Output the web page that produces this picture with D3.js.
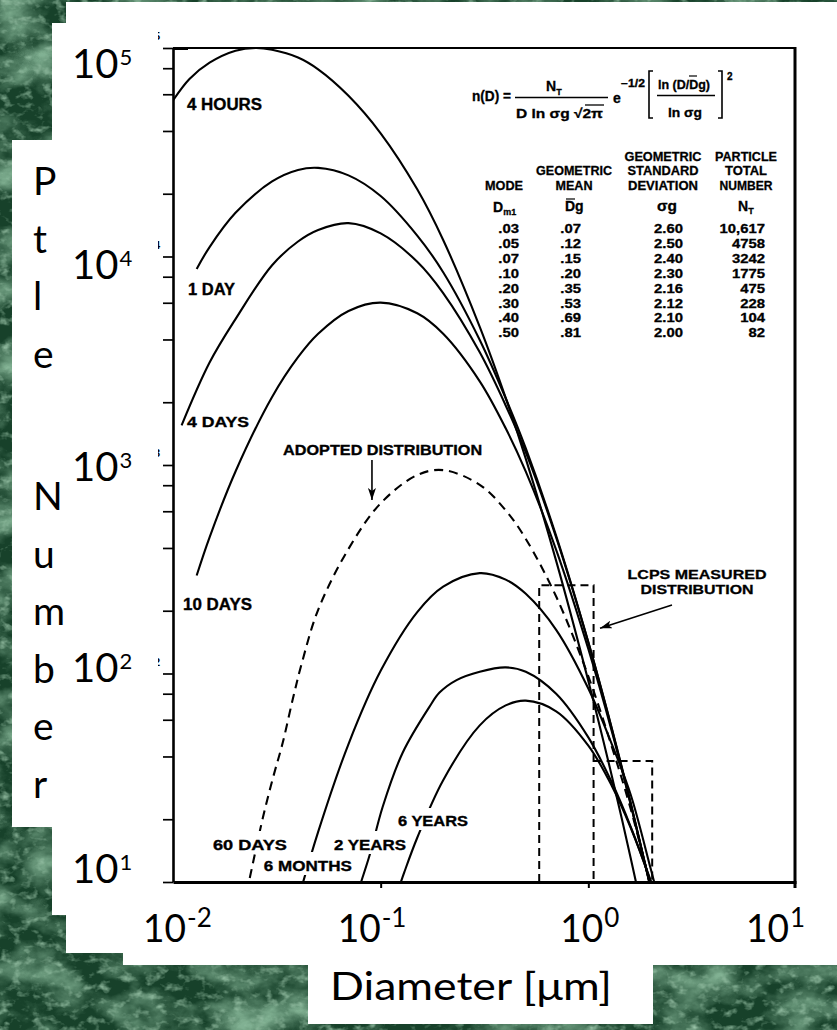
<!DOCTYPE html>
<html><head><meta charset="utf-8">
<script src="https://cdn.jsdelivr.net/npm/d3@7"></script>
<style>body{margin:0;background:#fff}svg{display:block}</style>
</head><body>
<svg id="c" width="837" height="1030"></svg>
<script>
// ---------------- DATA ----------------
const curveNames = ["4 HOURS","1 DAY","4 DAYS","10 DAYS","60 DAYS","6 MONTHS","2 YEARS","6 YEARS"];
// [diameter um, particle number]
const hours4 = [[0.01,56000],[0.012,71000],[0.015,85000],[0.02,97000],[0.025,100000],[0.03,98000],[0.04,90000],[0.05,79000],[0.07,59000],[0.1,39000],[0.15,21000],[0.2,12000],[0.3,4600],[0.4,2100],[0.5,1070],[0.7,347],[1.0,92],[1.3,32],[1.6,13],[2.0,4.7]];
const day1 = [[0.013,8710],[0.015,11100],[0.02,16200],[0.03,22900],[0.04,26000],[0.05,26600],[0.07,24500],[0.1,19500],[0.15,12600],[0.2,8410],[0.3,3980],[0.4,2090],[0.5,1200],[0.7,457],[1.0,141],[1.3,53.7],[1.6,23.7],[2.0,9.3]];
const days4 = [[0.011,1550],[0.015,3100],[0.02,5010],[0.03,9080],[0.04,11800],[0.05,13400],[0.07,14450],[0.1,12900],[0.15,9440],[0.2,6680],[0.3,3470],[0.4,1930],[0.5,1150],[0.7,449],[1.0,141],[1.3,54.2],[1.6,23.9],[2.0,9.3]];
const days10 = [[0.013,295],[0.015,450],[0.02,931],[0.03,2120],[0.04,3290],[0.05,4260],[0.07,5480],[0.1,6010],[0.15,5340],[0.2,4260],[0.3,2520],[0.4,1500],[0.5,929],[0.7,392],[1.0,131],[1.3,52.4],[1.6,23.5],[2.0,9.3]];
const days60 = [[0.0226,8.9],[0.0232,10],[0.0271,20.4],[0.0303,31.6],[0.0338,46.8],[0.0377,75],[0.0417,112],[0.05,202],[0.07,396],[0.1,655],[0.15,895],[0.2,945],[0.3,804],[0.4,606],[0.5,442],[0.7,234],[1.0,97],[1.3,44.3],[1.6,22.4],[2.0,9.5]];
const months6 = [[0.04,8.2],[0.05,17.4],[0.07,45.9],[0.1,103],[0.15,197],[0.2,261],[0.3,303],[0.4,282],[0.5,241],[0.7,162],[1.0,84.7],[1.3,45.6],[1.6,26.2],[2.0,11.5],[2.2,8]];
const years2 = [[0.078,9.1],[0.081,10.2],[0.0886,13.5],[0.1022,22.9],[0.1276,41.7],[0.172,69.4],[0.192,81],[0.232,93],[0.3,102],[0.4,107],[0.5,102],[0.7,80],[1.0,49.4],[1.3,29.9],[1.6,18.4],[2.0,10.0],[2.2,7.5]];
const years6 = [[0.12,8.84],[0.13,11.15],[0.15,16.3],[0.2,30.8],[0.3,56.4],[0.4,70.3],[0.5,74.1],[0.7,65.9],[1.0,45.1],[1.3,28.8],[1.6,18.2],[2.0,10.1],[2.2,7.6]];
const curveData = [hours4, day1, days4, days10, days60, months6, years2, years6];
const curveDashed = [false,false,false,false,true,false,false,false];
// label anchors (diameter, number) for each curve label
const labelD = [0.01168,0.01181,0.01168,0.01117,0.01557,0.02737,0.05963,0.1212];
const labelN = [50430,6536,1521,201.6,14.24,11.29,14.24,18.56];
// LCPS measured distribution (histogram bins)
const lcpsLo = [0.58, 1.06];
const lcpsHi = [1.06, 2.03];
const lcpsN  = [265, 38];
// axis ticks
const xTickValues = [0.01, 0.1, 1, 10];
const xTickExp = ["-2","-1","0","1"];
const yTickValues = [10, 100, 1000, 10000, 100000];
const yTickExp = ["1","2","3","4","5"];
// table
const tableMode = [".03",".05",".07",".10",".20",".30",".40",".50"];
const tableMean = [".07",".12",".15",".20",".35",".53",".69",".81"];
const tableSd   = ["2.60","2.50","2.40","2.30","2.16","2.12","2.10","2.00"];
const tableNT   = ["10,617","4758","3242","1775","475","228","104","82"];

// ---------------- LAYOUT ----------------
const svg = d3.select("#c");
const W = 837, H = 1030;
const defs = svg.append("defs");
function marble(id, freq, oct, seed, rgb, a, b){
  const f = defs.append("filter").attr("id",id).attr("filterUnits","userSpaceOnUse")
    .attr("x",0).attr("y",0).attr("width",W).attr("height",H);
  f.append("feTurbulence").attr("type","fractalNoise").attr("baseFrequency",freq)
    .attr("numOctaves",oct).attr("seed",seed);
  f.append("feColorMatrix").attr("type","matrix")
    .attr("values",`0 0 0 0 ${rgb[0]}  0 0 0 0 ${rgb[1]}  0 0 0 0 ${rgb[2]}  ${a} 0 0 0 ${b}`);
}
marble("marble1","0.018 0.026",5,11,[0.22,0.44,0.29],2.2,-0.85);
marble("marble2","0.09 0.12",3,5,[0.33,0.56,0.40],2.2,-1.15);
const mk = defs.append("marker").attr("id","arr").attr("viewBox","0 0 12 8")
  .attr("refX",12).attr("refY",4).attr("markerWidth",12).attr("markerHeight",8)
  .attr("markerUnits","userSpaceOnUse").attr("orient","auto");
mk.append("path").attr("d","M0,0 L12,4 L0,8 L3,4 z").attr("fill","#000");
defs.append("clipPath").attr("id","plotclip").append("rect")
  .attr("x",173).attr("y",46).attr("width",623).attr("height",836);
defs.append("clipPath").attr("id","fragclip").append("rect")
  .attr("x",158).attr("y",0).attr("width",20).attr("height",H);

// background
svg.append("rect").attr("width",W).attr("height",H).attr("fill","#17412a");
svg.append("rect").attr("width",W).attr("height",H).attr("fill","#000").attr("filter","url(#marble1)");
svg.append("rect").attr("width",W).attr("height",H).attr("fill","#000").attr("filter","url(#marble2)");

// white panels
const panels = [[66,2,771,951],[123,953,714,12],[52,23,110,892],[12,140,60,687],[308,965,345,59]];
svg.selectAll("rect.panel").data(panels).enter().append("rect").attr("class","panel")
  .attr("x",d=>d[0]).attr("y",d=>d[1]).attr("width",d=>d[2]).attr("height",d=>d[3]).attr("fill","#fff");

// scales
const x = d3.scaleLog().domain([0.01,10]).range([173,796]);
const y = d3.scaleLog().domain([10,1e5]).range([882,48]);
const yLab = d3.scaleLog().domain([10,1e5]).range([883,78]);
const xLabNudge = [-28,-41,-26,-48];

const BOLD = "'Liberation Sans', Arial, Helvetica, sans-serif";
const BIG = "Lato, 'Open Sans', sans-serif";

// tick label fragments from the original scan
svg.append("g").attr("clip-path","url(#fragclip)").selectAll("text")
  .data(["5","4","3","2"]).enter().append("text")
  .attr("x",154).attr("y",(d,i)=>y(yTickValues[4-i]) - 8)
  .attr("font-family",BOLD).attr("font-weight","bold").attr("font-size",11).text(d=>d);

// axes
const yMinor = [];
[10,100,1000,10000].forEach(d=>{ [1,2,4,6,8].forEach(m=>yMinor.push(d*m)); });
yMinor.push(1e5);
const gy = svg.append("g").attr("transform","translate(173,0)")
  .call(d3.axisLeft(y).tickValues(yMinor).tickSize(10).tickSizeOuter(0).tickFormat(""));
gy.select(".domain").attr("stroke-width",2.6);
gy.selectAll(".tick line").attr("stroke-width",1.7);
const gx = svg.append("g").attr("transform","translate(0,882)")
  .call(d3.axisBottom(x).tickValues([0.1,1]).tickSize(6).tickSizeOuter(0).tickFormat(""));
gx.select(".domain").attr("stroke-width",3);
gx.selectAll(".tick line").attr("stroke-width",2);
// frame top and right
svg.append("line").attr("x1",x(0.01)).attr("x2",x(10)).attr("y1",y(1e5)).attr("y2",y(1e5))
  .attr("stroke","#000").attr("stroke-width",2.2);
svg.append("line").attr("x1",x(0.01)).attr("x2",x(0.01)+15).attr("y1",y(1e5)+0.5).attr("y2",y(1e5)+0.5)
  .attr("stroke","#000").attr("stroke-width",3);
svg.append("line").attr("x1",x(10)-1).attr("x2",x(10)-1).attr("y1",y(1e5)-1).attr("y2",888)
  .attr("stroke","#000").attr("stroke-width",3);

// curves
const line = d3.line().x(d=>x(d[0])).y(d=>y(d[1])).curve(d3.curveCatmullRom.alpha(0.5));
const gc = svg.append("g").attr("clip-path","url(#plotclip)");
gc.selectAll("path.curve").data(curveData).enter().append("path").attr("class","curve")
  .attr("d",line).attr("fill","none").attr("stroke","#000").attr("stroke-width",2.1)
  .attr("stroke-linejoin","round")
  .attr("stroke-dasharray",(d,i)=>curveDashed[i]?"9,6":null);

// LCPS measured distribution boxes
const lc = d3.path();
lc.moveTo(x(lcpsLo[0]), y(10)); lc.lineTo(x(lcpsLo[0]), y(lcpsN[0]));
lc.lineTo(x(lcpsHi[0]), y(lcpsN[0])); lc.lineTo(x(lcpsHi[0]), y(10));
lc.moveTo(x(lcpsLo[1]), y(lcpsN[1])); lc.lineTo(x(lcpsHi[1]), y(lcpsN[1])); lc.lineTo(x(lcpsHi[1]), y(10));
svg.append("path").attr("d",lc.toString()).attr("fill","none").attr("stroke","#000")
  .attr("stroke-width",2).attr("stroke-dasharray","8,5");

// curve labels
const labelWidth = [75,47,62,69,74,88,72,70];
const labelSize  = [16,16,15,16,15,15,15,14.5];
const knock = [false,false,false,false,true,true,true,true];
const gl = svg.append("g");
curveNames.forEach((nm,i)=>{
  const t = gl.append("text").attr("x",x(labelD[i])).attr("y",y(labelN[i]))
    .attr("font-family",BOLD).attr("font-weight","bold").attr("font-size",labelSize[i])
    .attr("stroke","#000").attr("stroke-width",0.35)
    .attr("textLength",labelWidth[i]).attr("lengthAdjust","spacingAndGlyphs").text(nm);
  if (knock[i]) {
    const b = t.node().getBBox();
    gl.insert("rect","text").attr("x",b.x-3).attr("y",b.y-5).attr("width",b.width+6)
      .attr("height",b.height+6).attr("fill","#fff");
  }
});
// adopted distribution annotation
svg.append("text").attr("x",x(0.0339)).attr("y",y(1117)).attr("font-family",BOLD)
  .attr("font-weight","bold").attr("font-size",15).attr("textLength",199)
  .attr("stroke","#000").attr("stroke-width",0.35)
  .attr("lengthAdjust","spacingAndGlyphs").text("ADOPTED DISTRIBUTION");
svg.append("line").attr("x1",x(0.0908)).attr("x2",x(0.0908)).attr("y1",y(1057)).attr("y2",y(679))
  .attr("stroke","#000").attr("stroke-width",1.6).attr("marker-end","url(#arr)");
// LCPS annotation
svg.append("text").attr("x",x(3.337)).attr("y",y(283.9)).attr("text-anchor","middle")
  .attr("font-family",BOLD).attr("font-weight","bold").attr("font-size",13)
  .attr("stroke","#000").attr("stroke-width",0.3)
  .attr("textLength",139).attr("lengthAdjust","spacingAndGlyphs").text("LCPS MEASURED");
svg.append("text").attr("x",x(3.337)).attr("y",y(240.5)).attr("text-anchor","middle")
  .attr("font-family",BOLD).attr("font-weight","bold").attr("font-size",13)
  .attr("stroke","#000").attr("stroke-width",0.3)
  .attr("textLength",113).attr("lengthAdjust","spacingAndGlyphs").text("DISTRIBUTION");
svg.append("line").attr("x1",x(2.528)).attr("y1",y(213)).attr("x2",x(1.138)).attr("y2",y(165))
  .attr("stroke","#000").attr("stroke-width",1.6).attr("marker-end","url(#arr)");

// ---------------- formula ----------------
const gf = svg.append("g").attr("font-family",BOLD).attr("font-weight","bold").attr("fill","#000")
  .attr("stroke","#000").attr("stroke-width",0.3);
function T(xp,yp,s,txt,len,anchor){
  const t = gf.append("text").attr("x",xp).attr("y",yp).attr("font-size",s).text(txt);
  if(len) t.attr("textLength",len).attr("lengthAdjust","spacingAndGlyphs");
  if(anchor) t.attr("text-anchor",anchor);
  return t;
}
function TS(xp,yp,s,main,sub,subSize,dy){
  const t = gf.append("text").attr("x",xp).attr("y",yp).attr("font-size",s);
  t.append("tspan").text(main);
  t.append("tspan").attr("font-size",subSize).attr("dy",dy).text(sub);
  return t;
}
function L(x1,y1,x2,y2,w){ gf.append("line").attr("x1",x1).attr("y1",y1).attr("x2",x2).attr("y2",y2)
  .attr("stroke","#000").attr("stroke-width",w||1.6); }
T(472,101,14,"n(D) =",39);
TS(546,91,14,"N","T",9,4);
L(515,97.5,608,97.5);
T(516,118,13,"D ln σg  √2π",87);
L(585,105,604,105,1.3);
T(613,103,14,"e");
T(621,87,10,"−1/2",24);
gf.append("path").attr("d","M653,71 H649 V118 H653").attr("fill","none").attr("stroke","#000").attr("stroke-width",1.6);
T(658,89,12,"ln (D/Dg)",52);
L(689,76,697,76,1.2);
L(657,95.5,715,95.5);
T(668,117,12,"ln σg",34);
gf.append("path").attr("d","M718,71 H722 V118 H718").attr("fill","none").attr("stroke","#000").attr("stroke-width",1.6);
T(727,80,10,"2");

// ---------------- table ----------------
const hdrCenters = [504, 574, 663, 746];
const hdrLines = [["MODE"],["GEOMETRIC","MEAN"],["GEOMETRIC","STANDARD","DEVIATION"],["PARTICLE","TOTAL","NUMBER"]];
const hdrWidths = [[38],[76,37],[77,71,70],[62,42,53]];
hdrLines.forEach((lines,c)=>{
  lines.forEach((s,k)=>{
    const yy = 190 - (lines.length-1-k)*14.6;
    T(hdrCenters[c], yy, 12.5, s, hdrWidths[c][k], "middle");
  });
});
// symbol row
TS(493,212,14,"D","m1",9,3);
T(565,211,14,"Dg"); L(566,199,575,199,1.2);
T(657,211,14,"σg",20);
TS(738,211,14,"N","T",9,3);
// rows (glyphs widened to the scan's proportions)
const colEnds = [519, 581, 683, 765];
[tableMode,tableMean,tableSd,tableNT].forEach((col,c)=>{
  col.forEach((v,r)=>{
    const t = T(colEnds[c], 233 + r*14.9, 12.8, v, null, "end");
    const w = t.node().getComputedTextLength();
    t.attr("textLength", w*1.16).attr("lengthAdjust","spacingAndGlyphs");
  });
});

// ---------------- big overlay labels ----------------
const gb = svg.append("g").attr("font-family",BIG).attr("fill","#000");
yTickValues.forEach((v,i)=>{
  const b = yLab(v);
  gb.append("text").attr("x",72).attr("y",b).attr("font-size",40).text("10");
  gb.append("text").attr("x",119.5).attr("y",b-13).attr("font-size",22).text(yTickExp[i]);
});
xTickValues.forEach((v,i)=>{
  const l = x(v) + xLabNudge[i];
  gb.append("text").attr("x",l-2).attr("y",942).attr("font-size",38)
    .attr("textLength",43).attr("lengthAdjust","spacingAndGlyphs").text("10");
  gb.append("text").attr("x",l+42).attr("y",927).attr("font-size",26).text(xTickExp[i]);
});
const yTitleTop = ["P","t","l","e"];
const yTitleBottom = ["N","u","m","b","e","r"];
const ty = gb.append("text").attr("font-size",39);
yTitleTop.forEach((c,i)=>ty.append("tspan").attr("x",33).attr("y",195+i*57.6).text(c));
yTitleBottom.forEach((c,i)=>ty.append("tspan").attr("x",33).attr("y",510+i*57.6).text(c));
gb.append("text").attr("x",330).attr("y",1000).attr("font-size",39)
  .attr("textLength",282).attr("lengthAdjust","spacingAndGlyphs").text("Diameter [μm]");
</script>
</body></html>
